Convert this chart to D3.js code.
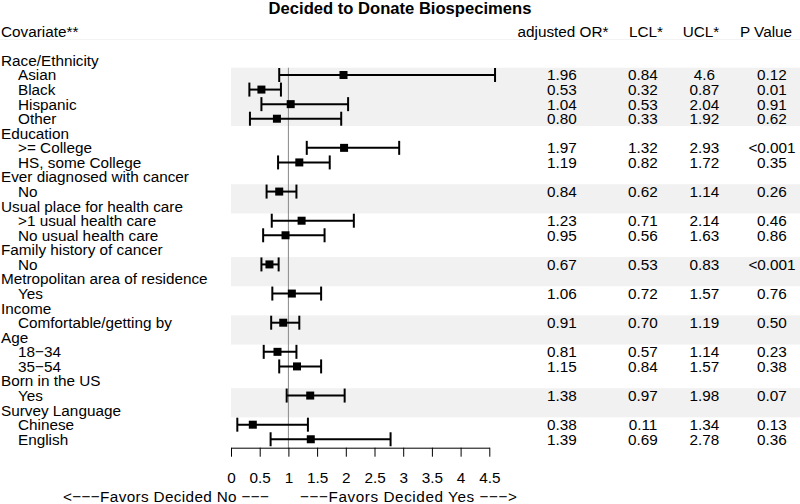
<!DOCTYPE html>
<html>
<head>
<meta charset="utf-8">
<script src="https://cdn.jsdelivr.net/npm/d3@7"></script>
<style>
  body { margin: 0; background: #fff; }
  text { font-family: "Liberation Sans", Arial, sans-serif; fill: #000; }
</style>
</head>
<body>
<div id="chart"></div>
<script>
var W = 800, H = 504;

// covariate groups and their levels
var groups = ["Race/Ethnicity", "Education", "Ever diagnosed with cancer",
  "Usual place for health care", "Family history of cancer",
  "Metropolitan area of residence", "Income", "Age", "Born in the US",
  "Survey Language"];
var levels = [
  ["Asian", "Black", "Hispanic", "Other"],
  [">= College", "HS, some College"],
  ["No"],
  [">1 usual health care", "No usual health care"],
  ["No"],
  ["Yes"],
  ["Comfortable/getting by"],
  ["18\u221234", "35\u221254"],
  ["Yes"],
  ["Chinese", "English"]
];
var oddsRatio = [1.96, 0.53, 1.04, 0.80, 1.97, 1.19, 0.84, 1.23, 0.95, 0.67, 1.06, 0.91, 0.81, 1.15, 1.38, 0.38, 1.39];
var lcl = [0.84, 0.32, 0.53, 0.33, 1.32, 0.82, 0.62, 0.71, 0.56, 0.53, 0.72, 0.70, 0.57, 0.84, 0.97, 0.11, 0.69];
var ucl = [4.6, 0.87, 2.04, 1.92, 2.93, 1.72, 1.14, 2.14, 1.63, 0.83, 1.57, 1.19, 1.14, 1.57, 1.98, 1.34, 2.78];
var pValue = ["0.12", "0.01", "0.91", "0.62", "<0.001", "0.35", "0.26", "0.46", "0.86", "<0.001", "0.76", "0.50", "0.23", "0.38", "0.07", "0.13", "0.36"];
var xTicks = [0, 0.5, 1, 1.5, 2, 2.5, 3, 3.5, 4, 4.5];
var colHeads = ["adjusted OR*", "LCL*", "UCL*", "P Value"];

// build the rows: headers + levels
var rows = [], est = [], row = 2, k = 0;
groups.forEach(function(g, gi) {
  rows.push({ label: g, row: row++, header: true, group: gi });
  levels[gi].forEach(function(l) {
    rows.push({ label: l, row: row, header: false, group: gi });
    est.push({ row: row, or: oddsRatio[k], lo: lcl[k], hi: ucl[k], p: pValue[k] });
    row++; k++;
  });
});

var base = function(r) { return 36.7 + 14.57 * r; };   // text baseline
var mid = function(r) { return base(r) - 5.4; };        // mark centre

var x = d3.scaleLinear().domain([0, 4.5]).range([231, 489.3]);
var axisY = 447.7;
var fs = "15.3px";

var svg = d3.select("#chart").append("svg")
  .attr("width", W).attr("height", H);

// zebra bands for every other group
groups.forEach(function(g, gi) {
  if (gi % 2) return;
  var first = rows.filter(function(r) { return r.group == gi && !r.header; })[0].row;
  var n = Math.max(levels[gi].length, 2);
  svg.append("rect")
    .attr("x", 231).attr("width", W - 231)
    .attr("y", mid(first) - 7.3)
    .attr("height", 14.57 * n)
    .attr("fill", "#f1f1f1");
});

svg.append("line").attr("x1", 0).attr("x2", W).attr("y1", 39.5).attr("y2", 39.5)
  .attr("stroke", "#f3f3f3");

svg.append("text").attr("x", 400).attr("y", 13.5).attr("text-anchor", "middle")
  .style("font-size", "16.6px").style("font-weight", "bold")
  .text("Decided to Donate Biospecimens");

svg.append("text").attr("x", 1).attr("y", base(0)).style("font-size", fs)
  .text("Covariate**");

var colX = [562, 643, 704.5, 772];
var headX = [563, 646, 701, 766];
colHeads.forEach(function(c, i) {
  svg.append("text").attr("x", headX[i]).attr("y", base(0))
    .attr("text-anchor", "middle").style("font-size", fs).text(c);
});

svg.selectAll("text.lab").data(rows).enter().append("text")
  .attr("class", "lab")
  .attr("x", function(d) { return d.header ? 1 : 18; })
  .attr("y", function(d) { return base(d.row); })
  .style("font-size", fs)
  .text(function(d) { return d.label; });

// reference line at OR = 1
svg.append("line").attr("x1", x(1)).attr("x2", x(1))
  .attr("y1", mid(3) - 7.3).attr("y2", axisY)
  .attr("stroke", "#888").attr("stroke-width", 1);

var f2 = d3.format(".2f"), f2t = d3.format(".2~f");
var g = svg.selectAll("g.est").data(est).enter().append("g").attr("class", "est");
g.each(function(d) {
  var s = d3.select(this), y = mid(d.row);
  s.append("line").attr("x1", x(d.lo)).attr("x2", x(d.hi))
    .attr("y1", y).attr("y2", y).attr("stroke", "#000").attr("stroke-width", 2);
  [d.lo, d.hi].forEach(function(v) {
    s.append("line").attr("x1", x(v)).attr("x2", x(v))
      .attr("y1", y - 7).attr("y2", y + 7).attr("stroke", "#000").attr("stroke-width", 2);
  });
  s.append("rect").attr("x", x(d.or) - 4).attr("y", y - 4)
    .attr("width", 8).attr("height", 8).attr("fill", "#000");
  var vals = [f2(d.or), f2(d.lo), f2t(d.hi), d.p];
  vals.forEach(function(v, i) {
    s.append("text").attr("x", colX[i]).attr("y", base(d.row))
      .attr("text-anchor", "middle").style("font-size", fs).text(v);
  });
});

var axis = d3.axisBottom(x).tickValues(xTicks).tickSize(9).tickSizeOuter(0)
  .tickFormat(d3.format(""));
var ax = svg.append("g").attr("transform", "translate(0," + axisY + ")").call(axis);
ax.select(".domain").attr("stroke", "#000");
ax.selectAll(".tick line").attr("stroke", "#000");
ax.selectAll(".tick text").attr("y", 35.6).attr("dy", null)
  .style("font-size", fs).style("font-family", "'Liberation Sans', Arial, sans-serif")
  .attr("fill", "#000");

svg.append("text").attr("x", 63).attr("y", 501.5)
  .attr("textLength", 206).attr("lengthAdjust", "spacing")
  .style("font-size", fs).text("<\u2212\u2212\u2212Favors Decided No \u2212\u2212\u2212");
svg.append("text").attr("x", 300).attr("y", 501.5)
  .attr("textLength", 217).attr("lengthAdjust", "spacing")
  .style("font-size", fs).text("\u2212\u2212\u2212Favors Decided Yes \u2212\u2212\u2212>");
</script>
</body>
</html>
